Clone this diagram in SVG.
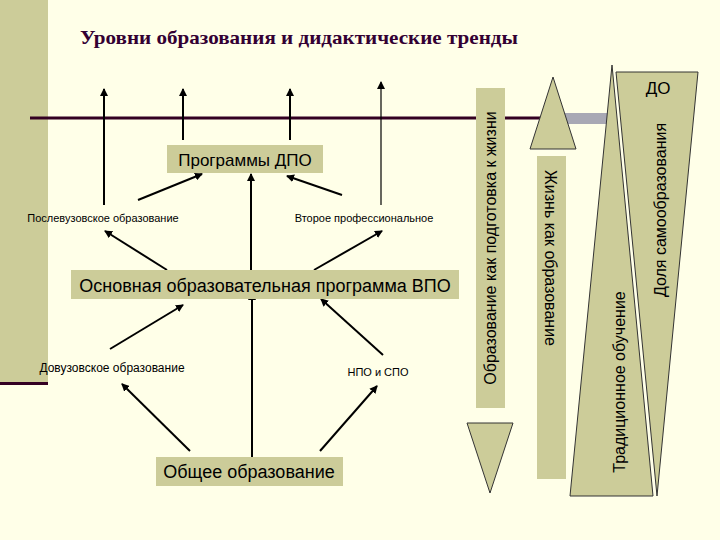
<svg xmlns="http://www.w3.org/2000/svg" width="720" height="540" viewBox="0 0 720 540">
<defs>
<marker id="ah" markerWidth="8" markerHeight="8" refX="7" refY="4" orient="auto" markerUnits="userSpaceOnUse"><path d="M0,0 L8,4 L0,8 z" fill="#000"/></marker>
<style>
.box{fill:#CCCC99}
.t{font-family:"Liberation Sans",Arial,sans-serif;fill:#000}
.c line{stroke:#000;stroke-width:2;marker-end:url(#ah)}
.sh{fill:#CCCC99;stroke:#333;stroke-width:1}
</style>
</defs>
<rect width="720" height="540" fill="#FFFFE8"/>
<rect x="0" y="0" width="48" height="383" fill="#CCCC99"/>
<rect x="0" y="382" width="48" height="3" fill="#330022"/>
<text x="80" y="44" font-family="Liberation Serif,serif" font-weight="bold" font-size="19" fill="#330033" textLength="438" lengthAdjust="spacingAndGlyphs">Уровни образования и дидактические тренды</text>
<line x1="30" y1="118" x2="607" y2="118" stroke="#330022" stroke-width="3"/>
<rect x="564" y="113" width="44" height="11" fill="#A8A8B4"/>
<g class="c" id="connectors">
<line x1="104" y1="205" x2="104" y2="89"/>
<line x1="183" y1="140" x2="183" y2="89"/>
<line x1="290" y1="140" x2="290" y2="89"/>
<line x1="381" y1="205" x2="381" y2="82" style="stroke-width:1.2"/>
<line x1="138" y1="200" x2="202" y2="174"/>
<line x1="251" y1="270" x2="251" y2="174"/>
<line x1="342" y1="195" x2="287" y2="176"/>
<line x1="167" y1="270" x2="105" y2="231"/>
<line x1="314" y1="270" x2="382" y2="231"/>
<line x1="110" y1="349" x2="183" y2="305"/>
<line x1="190" y1="451" x2="122" y2="384"/>
<line x1="252" y1="460" x2="252" y2="293"/>
<line x1="320" y1="451" x2="377" y2="386"/>
<line x1="383" y1="355" x2="321" y2="299"/>
</g>
<g id="n-dpo"><rect class="box" x="167" y="145" width="156" height="28"/><text class="t" x="245" y="166" font-size="17" text-anchor="middle">Программы ДПО</text></g>
<g id="n-vpo"><rect class="box" x="71" y="270" width="388" height="29"/><text class="t" x="265" y="292" font-size="18" text-anchor="middle">Основная образовательная программа ВПО</text></g>
<g id="n-obsh"><rect class="box" x="156" y="457" width="187" height="29"/><text class="t" x="249" y="478" font-size="18" text-anchor="middle">Общее образование</text></g>
<g id="n-poslev"><text class="t" x="103" y="222" font-size="11" text-anchor="middle">Послевузовское образование</text></g>
<g id="n-vtoroe"><text class="t" x="364" y="222" font-size="11" text-anchor="middle">Второе профессиональное</text></g>
<g id="n-dovuz"><text class="t" x="112" y="372" font-size="12" text-anchor="middle">Довузовское образование</text></g>
<g id="n-npo"><text class="t" x="378" y="376" font-size="11" text-anchor="middle">НПО и СПО</text></g>
<g id="n-podg">
<rect class="box" x="476" y="88" width="29" height="320"/>
<polygon class="sh" points="467,423 513,423 490,493"/>
<text class="t" font-size="16" text-anchor="middle" transform="translate(496,248) rotate(-90)">Образование как подготовка к жизни</text>
</g>
<g id="n-zhizn">
<polygon class="sh" points="553,77 530,149 576,149"/>
<rect class="box" x="537" y="156" width="29" height="323"/>
<text class="t" font-size="16" text-anchor="middle" transform="translate(545,258) rotate(90)">Жизнь как образование</text>
</g>
<g id="n-trad">
<polygon class="sh" points="612,65 570,496 653,496"/>
<text class="t" font-size="16" text-anchor="middle" transform="translate(625,382) rotate(-90)">Традиционное обучение</text>
</g>
<g id="n-samo">
<polygon class="sh" points="616,72 698,72 657,496"/>
<text class="t" font-size="16" text-anchor="middle" transform="translate(666,210) rotate(-90)">Доля самообразования</text>
<text class="t" x="658" y="94" font-size="17" text-anchor="middle">ДО</text>
</g>
</svg>
